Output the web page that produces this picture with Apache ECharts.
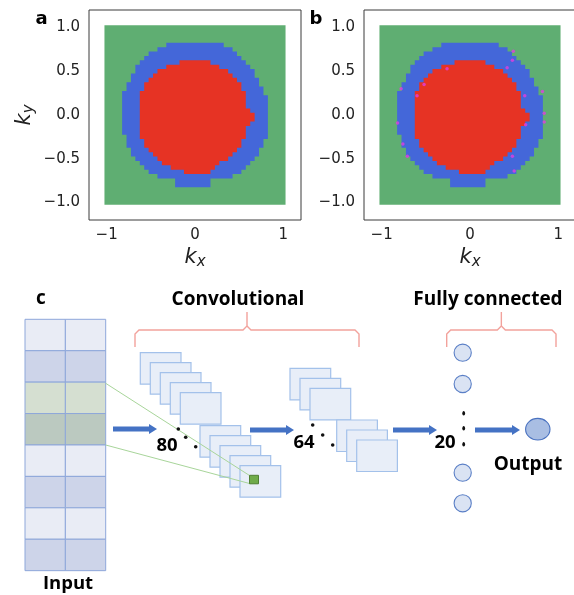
<!DOCTYPE html>
<html><head><meta charset="utf-8">
<script src="https://cdn.jsdelivr.net/npm/echarts@6/dist/echarts.min.js"></script>
<style>html,body{margin:0;padding:0;background:#fff}#c{width:574px;height:595px}</style>
</head><body><div id="c"></div><script>
// ---- data ----
const xTicks = [-1, 0, 1];
const yTicks = [-1, -0.5, 0, 0.5, 1];
const greenBox = [-1.025, 1.025];
// rows of the phase map: [ky, kx_left, kx_right]  (row height 0.05)
const redRows = [
  [0.60,-0.175,0.175],[0.55,-0.325,0.275],[0.50,-0.425,0.375],[0.45,-0.475,0.425],
  [0.40,-0.525,0.475],[0.35,-0.575,0.525],[0.30,-0.575,0.525],[0.25,-0.625,0.575],
  [0.20,-0.625,0.575],[0.15,-0.625,0.575],[0.10,-0.625,0.575],[0.05,-0.625,0.625],
  [0.00,-0.625,0.675],[-0.05,-0.625,0.675],[-0.10,-0.625,0.625],[-0.15,-0.625,0.575],
  [-0.20,-0.625,0.575],[-0.25,-0.625,0.575],[-0.30,-0.575,0.525],[-0.35,-0.575,0.525],
  [-0.40,-0.525,0.475],[-0.45,-0.475,0.425],[-0.50,-0.425,0.375],[-0.55,-0.375,0.275],
  [-0.60,-0.275,0.225],[-0.65,-0.125,0.175]
];
const blueRows = [
  [0.80,-0.325,0.325],[0.75,-0.425,0.425],[0.70,-0.525,0.475],[0.65,-0.575,0.525],
  [0.60,-0.625,0.575],[0.55,-0.675,0.625],[0.50,-0.675,0.675],[0.45,-0.725,0.675],
  [0.40,-0.725,0.725],[0.35,-0.775,0.725],[0.30,-0.775,0.775],[0.25,-0.825,0.775],
  [0.20,-0.825,0.825],[0.15,-0.825,0.825],[0.10,-0.825,0.825],[0.05,-0.825,0.825],
  [0.00,-0.825,0.825],[-0.05,-0.825,0.825],[-0.10,-0.825,0.825],[-0.15,-0.825,0.825],
  [-0.20,-0.825,0.825],[-0.25,-0.775,0.825],[-0.30,-0.775,0.775],[-0.35,-0.775,0.775],
  [-0.40,-0.725,0.725],[-0.45,-0.725,0.725],[-0.50,-0.675,0.675],[-0.55,-0.625,0.625],
  [-0.60,-0.575,0.575],[-0.65,-0.525,0.525],[-0.70,-0.425,0.425],[-0.75,-0.225,0.175],
  [-0.80,-0.225,0.175]
];
// misclassified points in panel b: [kx, ky]
const mismatchB = [
  [0.49,0.73],[0.48,0.625],[0.42,0.54],[0.82,0.27],[0.62,0.22],[0.84,0.02],[0.84,-0.08],
  [0.63,-0.11],[0.48,-0.47],[0.50,-0.64],[-0.26,0.53],[-0.52,0.35],[-0.60,0.22],
  [-0.78,0.30],[-0.82,-0.09],[-0.76,-0.33],[-0.71,-0.47]
];
// diagram text
const layerSizes = ['80', '64', '20'];
const inputRowFills = ['#e9ecf5','#cdd4e9','#d5dfd1','#bbc9c0','#e9ecf5','#cdd4e9','#e9ecf5','#cdd4e9'];

// ---- styles ----
const GREEN = '#5fae72', BLUE = '#4467d9', RED = '#e63324';
const tickFont = {fontFamily:'DejaVu Sans', fontSize:15, color:'#222'};
const fmtY = v => (v < 0 ? '\u2212' : '') + Math.abs(v).toFixed(1);
const fmtX = v => (v < 0 ? '\u2212' : '') + Math.abs(v);
const nameRich = {
  k: {fontFamily:'DejaVu Sans', fontStyle:'italic', fontSize:21, color:'#222'},
  s: {fontFamily:'DejaVu Sans', fontStyle:'italic', fontSize:15, color:'#222', padding:[9,0,0,0]}
};

function xAx(i, withName){
  return {gridIndex:i, type:'value', min:-1.2, max:1.2,
    axisLine:{show:false}, splitLine:{show:false},
    axisTick:{show:true, length:4, lineStyle:{color:'#333'}, customValues:xTicks},
    axisLabel:Object.assign({customValues:xTicks, formatter:fmtX, margin:8}, tickFont),
    name: withName ? '{k|k}{s|x}' : '', nameLocation:'middle', nameGap:26,
    nameTextStyle:{rich:nameRich}};
}
function yAx(i, withName){
  return {gridIndex:i, type:'value', min:-1.2, max:1.2,
    axisLine:{show:false}, splitLine:{show:false},
    axisTick:{show:true, length:4, lineStyle:{color:'#333'}, customValues:yTicks},
    axisLabel:Object.assign({customValues:yTicks, formatter:fmtY, margin:9}, tickFont),
    name: withName ? '{k|k}{s|y}' : '', nameLocation:'middle', nameGap:52,
    nameTextStyle:{rich:nameRich}};
}
// staircase region drawn as one polygon from its rows (no seams between rows)
function regionSeries(i, rows, color){
  return {type:'custom', xAxisIndex:i, yAxisIndex:i, data:[[0, 0]],
    renderItem:(p, api) => {
      const pts = [];
      rows.forEach(r => {
        pts.push(api.coord([r[2], r[0] + 0.025]));
        pts.push(api.coord([r[2], r[0] - 0.025]));
      });
      for (let k = rows.length - 1; k >= 0; k--) {
        const r = rows[k];
        pts.push(api.coord([r[1], r[0] - 0.025]));
        pts.push(api.coord([r[1], r[0] + 0.025]));
      }
      return {type:'polygon', shape:{points:pts}, style:{fill:color}};
    }};
}
function greenSeries(i){
  return {type:'custom', xAxisIndex:i, yAxisIndex:i, data:[[greenBox[0], greenBox[1]]], encode:{x:[0,1], y:[0,1]},
    renderItem:(p, api) => {
      const a = api.coord([api.value(0), api.value(1)]);
      const b = api.coord([api.value(1), api.value(0)]);
      return {type:'rect', shape:{x:a[0], y:a[1], width:b[0]-a[0], height:b[1]-a[1]}, style:{fill:GREEN}};
    }};
}

// ---- diagram (panel c) ----
const G = [];
let zc = 10;
function add(el){ el.z = zc++; G.push(el); }
function text(x, y, s, size, family){
  add({type:'text', x:x, y:y, style:{text:s, font:'bold ' + size + 'px ' + (family || '"Open Sans"'),
    fill:'#000', align:'center', verticalAlign:'middle'}});
}
function arrow(x1, x2, y){
  const hl = 8, bw = 2.6, hw = 5;
  add({type:'polygon', shape:{points:[[x1,y-bw],[x2-hl,y-bw],[x2-hl,y-hw],[x2,y],[x2-hl,y+hw],[x2-hl,y+bw],[x1,y+bw]]},
    style:{fill:'#4472c4'}});
}
function dot(x, y){ add({type:'circle', shape:{cx:x, cy:y, r:1.8}, style:{fill:'#111'}}); }
function brace(x1, x2, yTip, yLine, yPeak){
  const m = (x1 + x2) / 2;
  const st = {stroke:'#f2a29c', lineWidth:1.4, fill:null};
  add({type:'polyline', shape:{points:[[x1,yTip],[x1,yLine+4],[x1+4,yLine],[m-4,yLine],[m,yLine-4],[m,yPeak]]}, style:st});
  add({type:'polyline', shape:{points:[[m,yLine-4],[m+4,yLine],[x2-4,yLine],[x2,yLine+4],[x2,yTip]]}, style:st});
}
function fmap(x, y){
  add({type:'rect', shape:{x:x, y:y, width:40.7, height:31.5}, style:{fill:'#e8eef8', stroke:'#a3c1ea', lineWidth:1.2}});
}

text(41, 299, 'c', 19);
// input column
for (let r = 0; r < 8; r++) {
  for (let c = 0; c < 2; c++) {
    add({type:'rect', shape:{x:25 + c*40.35, y:319.3 + r*31.42, width:40.35, height:31.42},
      style:{fill:inputRowFills[r], stroke:'#8ea7da', lineWidth:1}});
  }
}
text(68, 584, 'Input', 18.5);
// conv layer 1 stacks
for (let i = 0; i < 5; i++) fmap(140.3 + 10*i, 352.7 + 10*i);
for (let i = 0; i < 5; i++) fmap(200 + 10*i, 425.7 + 10*i);
// conv layer 2 stacks
for (let i = 0; i < 3; i++) fmap(290 + 10*i, 368.3 + 10*i);
for (let i = 0; i < 3; i++) fmap(336.7 + 10*i, 420 + 10*i);
// receptive field
add({type:'line', shape:{x1:105.7, y1:383.3, x2:249.5, y2:475.5}, style:{stroke:'#a8d59a', lineWidth:1}});
add({type:'line', shape:{x1:105.7, y1:445, x2:249.5, y2:483.5}, style:{stroke:'#a8d59a', lineWidth:1}});
add({type:'rect', shape:{x:249.5, y:475.3, width:9, height:8.5}, style:{fill:'#6fab4a', stroke:'#4f7f33', lineWidth:1}});
// arrows
arrow(113, 157, 429);
arrow(250, 294, 430);
arrow(393, 437, 430);
arrow(475, 520, 430);
// layer sizes and ellipsis dots
text(167, 446, layerSizes[0], 18.5);
dot(178.3, 429); dot(185.7, 437.3); dot(195.7, 446.7);
text(304, 442.5, layerSizes[1], 18.5);
dot(312.7, 425); dot(322.7, 435); dot(332.7, 445);
text(445, 443, layerSizes[2], 18.5);
// fully connected neurons
[352.7, 384, 472.7, 503.3].forEach(cy => add({type:'circle', shape:{cx:462.7, cy:cy, r:8.6},
  style:{fill:'#dae3f3', stroke:'#5a7fc6', lineWidth:1.1}}));
[413.3, 428.3, 444.3].forEach(cy => add({type:'ellipse', shape:{cx:463.7, cy:cy, rx:1.4, ry:2.3}, style:{fill:'#111'}}));
add({type:'ellipse', shape:{cx:537.8, cy:429.2, rx:12.2, ry:10.8}, style:{fill:'#a9bee3', stroke:'#4a72c0', lineWidth:1.1}});
text(528, 465, 'Output', 19);
// braces + titles
brace(135, 359, 347, 330, 312);
brace(446.7, 556, 347, 330, 312);
text(238, 300, 'Convolutional', 19);
text(488, 300, 'Fully connected', 19);
// panel letters
add({type:'text', x:41.5, y:19, style:{text:'a', font:'bold 18px "DejaVu Sans"', fill:'#000', align:'center', verticalAlign:'middle'}});
add({type:'text', x:316, y:19, style:{text:'b', font:'bold 18px "DejaVu Sans"', fill:'#000', align:'center', verticalAlign:'middle'}});

const chart = echarts.init(document.getElementById('c'), null, {renderer:'canvas'});
chart.setOption({
  animation:false,
  backgroundColor:'#fff',
  grid:[
    {left:89, top:10, width:212, height:210, show:true, borderColor:'#3a3a3a', borderWidth:1, backgroundColor:'#fff', outerBoundsMode:'none'},
    {left:364, top:10, width:212, height:210, show:true, borderColor:'#3a3a3a', borderWidth:1, backgroundColor:'#fff', outerBoundsMode:'none'}
  ],
  xAxis:[xAx(0, true), xAx(1, true)],
  yAxis:[yAx(0, true), yAx(1, false)],
  series:[
    greenSeries(0), regionSeries(0, blueRows, BLUE), regionSeries(0, redRows, RED),
    greenSeries(1), regionSeries(1, blueRows, BLUE), regionSeries(1, redRows, RED),
    {type:'scatter', xAxisIndex:1, yAxisIndex:1, data:mismatchB, symbol:'circle', symbolSize:3.5,
      itemStyle:{color:'#e23de0'}, z:5}
  ],
  graphic:{elements:G}
});
</script></body></html>
